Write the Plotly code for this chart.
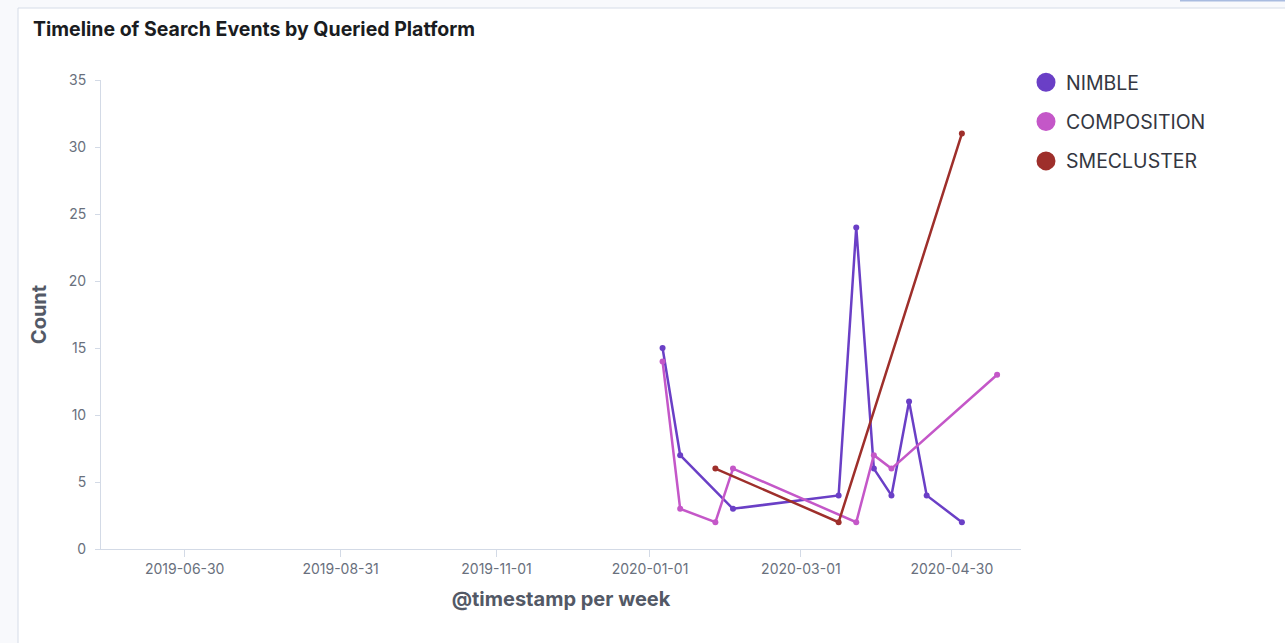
import plotly.graph_objects as go

# ---- data ----
nimble_weeks = ["2020-01-06", "2020-01-13", "2020-02-03", "2020-03-16", "2020-03-23",
                "2020-03-30", "2020-04-06", "2020-04-13", "2020-04-20", "2020-05-04"]
nimble_counts = [15, 7, 3, 4, 24, 6, 4, 11, 4, 2]

composition_weeks = ["2020-01-06", "2020-01-13", "2020-01-27", "2020-02-03",
                     "2020-03-23", "2020-03-30", "2020-04-06", "2020-05-18"]
composition_counts = [14, 3, 2, 6, 2, 7, 6, 13]

smecluster_weeks = ["2020-01-27", "2020-03-16", "2020-05-04"]
smecluster_counts = [6, 2, 31]

series_names = ["NIMBLE", "COMPOSITION", "SMECLUSTER"]
series_colors = ["#6a3fc6", "#c457c8", "#9e2f2b"]

x_tick_labels = ["2019-06-30", "2019-08-31", "2019-11-01", "2020-01-01", "2020-03-01", "2020-04-30"]
y_tick_values = [0, 5, 10, 15, 20, 25, 30, 35]

title_text = "Timeline of Search Events by Queried Platform"
x_title = "@timestamp per week"
y_title = "Count"

# ---- layout geometry (pixels) ----
W, H = 1285, 643
L, R, T, B = 101, 264, 80, 94
PW, PH = W - L - R, H - T - B


def px_x(p):
    return (p - L) / PW


def px_y(p):
    return (H - B - p) / PH


FONT = "Inter, 'Open Sans', sans-serif"

fig = go.Figure()

all_series = [(nimble_weeks, nimble_counts), (composition_weeks, composition_counts),
              (smecluster_weeks, smecluster_counts)]
for (xs, ys), name, color in zip(all_series, series_names, series_colors):
    fig.add_trace(go.Scatter(
        x=xs, y=ys, name=name, mode="lines+markers",
        line=dict(color=color, width=2.5),
        marker=dict(color=color, size=6),
        showlegend=False, legendgroup=name,
    ))

# legend entries (circles only)
for name, color in zip(series_names, series_colors):
    fig.add_trace(go.Scatter(
        x=[None], y=[None], name=name, mode="markers",
        marker=dict(color=color, size=16, line=dict(color=color, width=3)),
        legendgroup=name, showlegend=True, hoverinfo="skip",
    ))

shapes = [
    # card
    dict(type="rect", xref="paper", yref="paper",
         x0=px_x(18), x1=px_x(1300), y0=px_y(660), y1=px_y(8),
         fillcolor="white", line=dict(color="#d6dce8", width=1), layer="below"),
    # blue strip top-right
    dict(type="rect", xref="paper", yref="paper",
         x0=px_x(1180), x1=px_x(1290), y0=px_y(1.5), y1=px_y(-2),
         fillcolor="#a8bbe0", line=dict(width=0), layer="below"),
]

fig.update_layout(
    width=W, height=H,
    margin=dict(l=L, r=R, t=T, b=B, pad=0),
    paper_bgcolor="#f8f9fc",
    plot_bgcolor="white",
    font=dict(family=FONT, color="#69707d", size=14),
    shapes=shapes,
    annotations=[dict(
        text="<b>" + title_text + "</b>", xref="paper", yref="paper",
        x=px_x(31), y=px_y(29), xanchor="left", yanchor="middle",
        showarrow=False, font=dict(family=FONT, size=19.5, color="#1a1c21"),
    )],
    legend=dict(
        x=px_x(1026), y=px_y(63), xanchor="left", yanchor="top",
        font=dict(family=FONT, size=19.5, color="#343741"),
        bgcolor="rgba(0,0,0,0)", tracegroupgap=11, itemclick=False,
    ),
    xaxis=dict(
        type="date",
        range=["2019-05-27 18:00", "2020-05-27 12:00"],
        tickvals=x_tick_labels, ticktext=x_tick_labels,
        showgrid=False, zeroline=False,
        showline=True, linecolor="#d3dae6", linewidth=1,
        ticks="outside", ticklen=7, tickcolor="#d3dae6",
        tickfont=dict(family=FONT, size=14, color="#69707d"),
        title=dict(text="<b>" + x_title + "</b>", standoff=16,
                   font=dict(family=FONT, size=20, color="#535966")),
    ),
    yaxis=dict(
        range=[0, 35], tickvals=y_tick_values,
        showgrid=False, zeroline=False,
        showline=True, linecolor="#d3dae6", linewidth=1,
        ticks="outside", ticklen=5, tickcolor="#d3dae6",
        ticklabelstandoff=6,
        tickfont=dict(family=FONT, size=14, color="#69707d"),
        title=dict(text="<b>" + y_title + "</b>", standoff=16,
                   font=dict(family=FONT, size=20, color="#535966")),
    ),
)

fig.write_html("out.html", config={"displayModeBar": False},
               post_script="document.body.style.margin='0';")
